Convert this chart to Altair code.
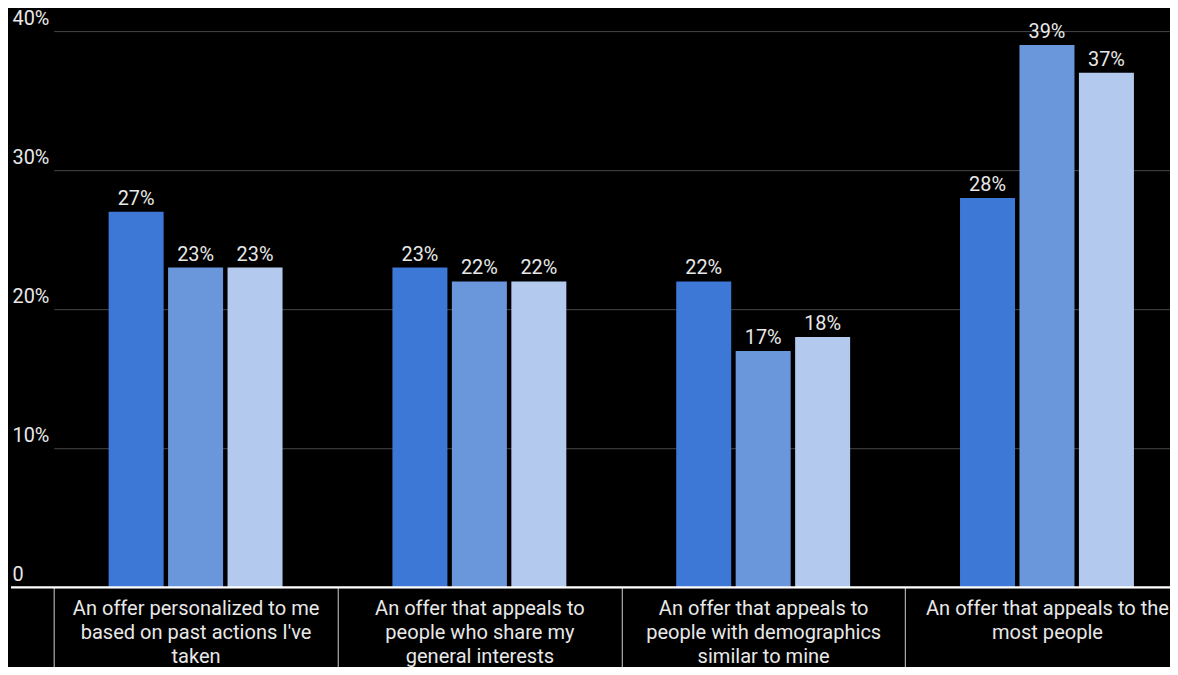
import altair as alt
import pandas as pd

# ---- data ----
category_lines = [
    ["An offer personalized to me", "based on past actions I've", "taken"],
    ["An offer that appeals to", "people who share my", "general interests"],
    ["An offer that appeals to", "people with demographics", "similar to mine"],
    ["An offer that appeals to the", "most people"],
]
categories = ["|".join(lines) for lines in category_lines]
series = ["Series 1", "Series 2", "Series 3"]
series1 = [27, 23, 22, 28]
series2 = [23, 22, 17, 39]
series3 = [23, 22, 18, 37]
y_ticks = [0, 10, 20, 30, 40]
colors = ["#3d78d6", "#6a97dc", "#b3c9ed"]

rows = []
for i, c in enumerate(categories):
    for s, vals in zip(series, [series1, series2, series3]):
        rows.append({"category": c, "series": s, "value": vals[i]})
df = pd.DataFrame(rows)

W, H = 1167, 560
TXT = "#e8e8e8"
FONT = "Roboto"

x_enc = alt.X(
    "category:N",
    sort=categories,
    scale=alt.Scale(range=[43, 1186], paddingInner=0, paddingOuter=0),
    axis=alt.Axis(
        title=None,
        domain=False,
        ticks=True,
        tickBand="extent",
        tickSize=86,
        tickColor="#d0d0d0",
        tickWidth=1,
        labelExpr="split(datum.label, '|')",
        labelAngle=0,
        labelBaseline="alphabetic",
        labelPadding=-59,
        labelLineHeight=24.5,
        labelFontSize=20.2,
        labelFont=FONT,
        labelColor=TXT,
        labelLimit=0,
        labelOverlap=False,
        grid=False,
    ),
)
xoff = alt.XOffset(
    "series:N", sort=series, scale=alt.Scale(paddingInner=0.075, paddingOuter=0.924)
)
y_enc = alt.Y(
    "value:Q",
    scale=alt.Scale(domain=[0, 40], nice=False),
    axis=alt.Axis(
        title=None,
        values=y_ticks,
        domain=False,
        ticks=False,
        grid=True,
        gridColor="#474747",
        gridWidth=1,
        labelAlign="left",
        labelBaseline="alphabetic",
        labelPadding=-1,
        labelOffset=-7,
        labelFontSize=20,
        labelFont=FONT,
        labelColor=TXT,
        labelExpr="datum.value == 0 ? '0' : datum.value + '%'",
    ),
)

base = alt.Chart(df)
bars = base.mark_bar().encode(
    x=x_enc,
    xOffset=xoff,
    y=y_enc,
    color=alt.Color(
        "series:N", sort=series, scale=alt.Scale(domain=series, range=colors), legend=None
    ),
)
labels = base.mark_text(
    baseline="alphabetic", dy=-7, fontSize=20, font=FONT, color=TXT
).encode(
    x=alt.X("category:N", sort=categories),
    xOffset=alt.XOffset("series:N", sort=series),
    y=alt.Y("value:Q"),
    text=alt.Text("label:N"),
).transform_calculate(label="datum.value + '%'")

baseline = alt.Chart(pd.DataFrame({"v": [0]})).mark_rule(
    color="#ffffff", strokeWidth=2.3
).encode(y=alt.Y("v:Q"), x=alt.value(0), x2=alt.value(W))

chart = (
    alt.layer(bars, labels, baseline)
    .properties(
        width=W,
        height=H,
        background="#000000",
        autosize=alt.AutoSizeParams(type="none"),
        padding={"left": 3, "top": 21, "right": 0, "bottom": 78},
    )
    .configure_view(stroke=None)
)

chart.save("out.html", embed_options={"renderer": "svg", "actions": False})
